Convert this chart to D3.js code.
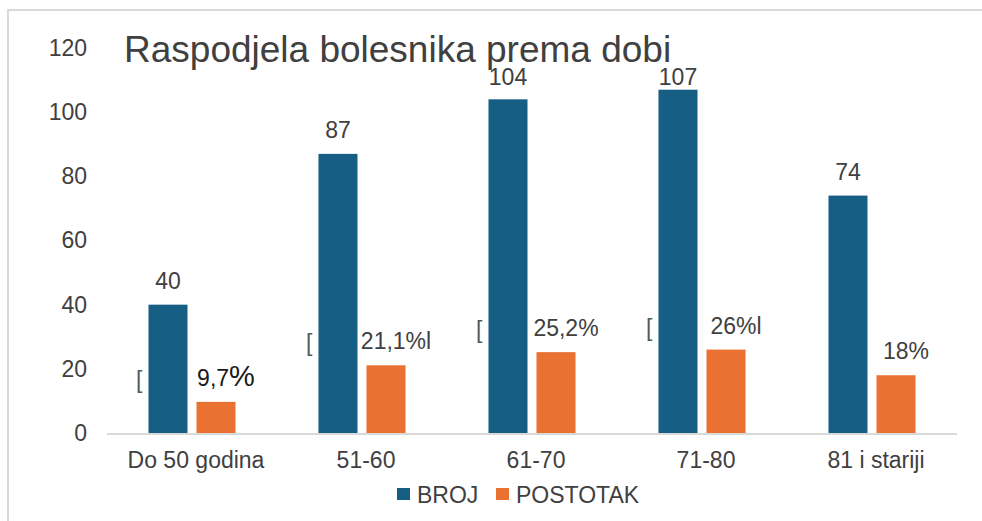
<!DOCTYPE html>
<html><head><meta charset="utf-8">
<script src="https://cdn.jsdelivr.net/npm/d3@7"></script>
<style>body{margin:0;background:#fff}svg{display:block;font-family:"Liberation Sans",Arial,sans-serif}</style>
</head><body>
<svg id="c" width="982" height="521"></svg>
<script>
const categories = ["Do 50 godina","51-60","61-70","71-80","81 i stariji"];
const series = ["BROJ","POSTOTAK"];
const broj = [40,87,104,107,74];
const postotak = [9.7,21.1,25.2,26,18];
const postotakLabels = ["9,7%","21,1%l","25,2%","26%l","18%"];
const yTicks = [0,20,40,60,80,100,120];
const colors = {BROJ:"#165E83", POSTOTAK:"#E97132"};
const title = "Raspodjela bolesnika prema dobi";

const svg = d3.select("#c");
// frame
svg.append("line").attr("x1",8).attr("x2",8).attr("y1",9).attr("y2",521).attr("stroke","#d9d9d9").attr("stroke-width",2);
svg.append("line").attr("x1",7).attr("x2",982).attr("y1",10).attr("y2",10).attr("stroke","#d9d9d9").attr("stroke-width",2);

const y = d3.scaleLinear().domain([0,120]).range([433,48]);
const x0 = d3.scaleBand().domain(categories).range([107,957]).paddingInner(0.488).paddingOuter(0.244);
const x1 = d3.scaleBand().domain(series).range([0,x0.bandwidth()]).paddingInner(0.1875);

// y tick labels
const yAxis = d3.axisLeft(y).tickValues(yTicks).tickSize(0).tickPadding(0);
const ga = svg.append("g").attr("transform","translate(87,0)").call(yAxis);
ga.select(".domain").remove();
ga.selectAll("text").attr("font-size",23).attr("fill","#404040").attr("font-family","Liberation Sans, Arial, sans-serif");

// baseline
svg.append("line").attr("x1",107).attr("x2",957).attr("y1",y(0)+1).attr("y2",y(0)+1).attr("stroke","#d9d9d9").attr("stroke-width",2);

// x labels
const xAxis = d3.axisBottom(x0).tickSize(0).tickPadding(0);
const gx = svg.append("g").attr("transform","translate(4,452)").call(xAxis);
gx.select(".domain").remove();
gx.selectAll("text").attr("font-size",23).attr("fill","#404040").attr("font-family","Liberation Sans, Arial, sans-serif");

const data = categories.map((c,i)=>({c, BROJ:broj[i], POSTOTAK:postotak[i], lab:postotakLabels[i]}));
const g = svg.selectAll("g.grp").data(data).enter().append("g").attr("class","grp")
  .attr("transform",d=>`translate(${x0(d.c)},0)`);
g.selectAll("rect").data(d=>series.map(s=>({s,v:d[s]}))).enter().append("rect")
  .attr("x",d=>x1(d.s)).attr("width",x1.bandwidth())
  .attr("y",d=>y(d.v)).attr("height",d=>y(0)-y(d.v)).attr("fill",d=>colors[d.s]);

// BROJ labels
g.append("text").attr("x",x1("BROJ")+x1.bandwidth()/2).attr("y",d=>Math.max(y(d.BROJ)-16,85))
  .attr("text-anchor","middle").attr("font-size",23).attr("fill","#404040").text(d=>d.BROJ);
// POSTOTAK labels
g.append("text").attr("x",x1("POSTOTAK")+x1.bandwidth()/2+10).attr("y",d=>y(d.POSTOTAK)-16)
  .attr("text-anchor","middle").attr("font-size",23)
  .attr("fill",(d,i)=>i===0?"#1a1a1a":"#404040")
  .each(function(d,i){
    const t=d3.select(this);
    if(i===0){ t.append("tspan").text(d.lab.slice(0,-1)); t.append("tspan").attr("font-size",29).text("%"); }
    else t.text(d.lab);
  });
// stray bracket artifacts
g.filter((d,i)=>i<4).append("text").attr("x",x1("BROJ")-6).attr("y",d=>y(d.POSTOTAK)-14)
  .attr("text-anchor","end").attr("font-size",23).attr("fill","#595959").text("[");

// title
svg.append("text").attr("x",124).attr("y",62).attr("font-size",37).attr("fill","#404040").text(title);

// legend
const leg = [{s:"BROJ",x:397},{s:"POSTOTAK",x:496}];
const lg = svg.selectAll("g.leg").data(leg).enter().append("g").attr("class","leg");
lg.append("rect").attr("x",d=>d.x).attr("y",488).attr("width",13).attr("height",12).attr("fill",d=>colors[d.s]);
lg.append("text").attr("x",d=>d.x+20).attr("y",503).attr("font-size",23).attr("fill","#404040").text(d=>d.s);
</script>
</body></html>
